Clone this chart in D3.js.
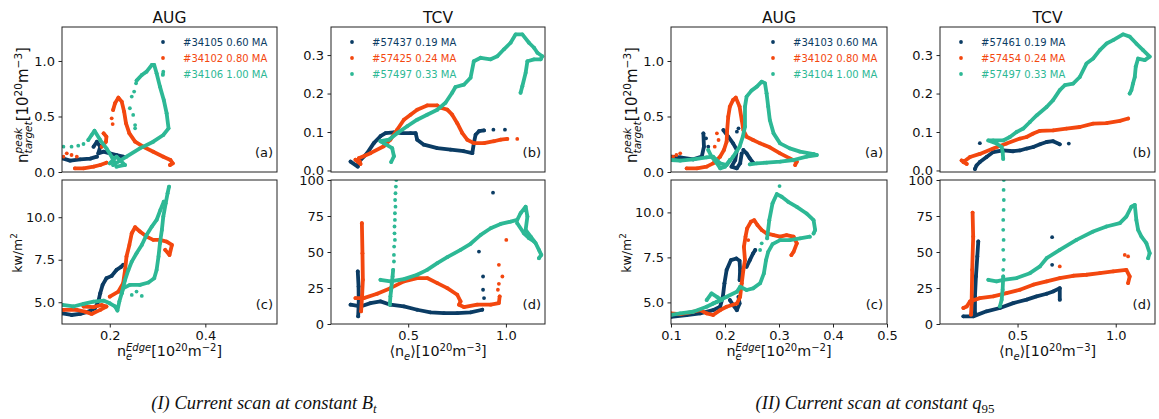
<!DOCTYPE html>
<html>
<head>
<meta charset="utf-8">
<script src="https://cdn.jsdelivr.net/npm/d3@7"></script>
<style>
  body { margin: 0; background: #fff; }
  svg { display: block; font-family: "DejaVu Sans", Verdana, sans-serif; }
</style>
</head>
<body>
<svg id="chart" width="1159" height="419"></svg>
<script>
// ---- legend labels ----
const legendAugI = ["#34105 0.60 MA", "#34102 0.80 MA", "#34106 1.00 MA"];
const legendTcvI = ["#57437 0.19 MA", "#57425 0.24 MA", "#57497 0.33 MA"];
const legendAugII = ["#34103 0.60 MA", "#34102 0.80 MA", "#34104 1.00 MA"];
const legendTcvII = ["#57461 0.19 MA", "#57454 0.24 MA", "#57497 0.33 MA"];
const colors = ["#0b3c64", "#f3470f", "#2db895"];

// ---- (I) AUG, peak target density vs edge density ----
const augI_n_navy = [
  [[0.101,0.123],[0.117,0.102],[0.138,0.114],[0.159,0.120],[0.173,0.138]],
  [[0.166,0.228],[0.173,0.273],[0.180,0.228],[0.176,0.168],[0.187,0.183],[0.200,0.168],[0.214,0.153],[0.228,0.138]]
];
const augI_n_navyDots = [];
const augI_n_orange = [
  [[0.127,0.033],[0.145,0.033],[0.166,0.048],[0.180,0.063],[0.193,0.084]],
  [[0.187,0.348],[0.193,0.318],[0.192,0.273],[0.183,0.228]],
  [[0.207,0.559],[0.211,0.619],[0.218,0.670],[0.225,0.634],[0.230,0.544],[0.234,0.438],[0.241,0.348],[0.253,0.273],[0.270,0.228],[0.291,0.183],[0.312,0.138],[0.327,0.108],[0.332,0.078],[0.326,0.063]]
];
const augI_n_orangeDots = [[0.204,0.483],[0.206,0.432],[0.110,0.168],[0.120,0.153],[0.131,0.138],[0.103,0.138]];
const augI_n_teal = [
  [[0.155,0.288],[0.162,0.333],[0.168,0.372],[0.180,0.288],[0.193,0.213],[0.204,0.138],[0.211,0.078]],
  [[0.200,0.078],[0.214,0.138],[0.221,0.108],[0.232,0.063],[0.214,0.048]],
  [[0.207,0.063],[0.235,0.138],[0.263,0.213],[0.291,0.273],[0.312,0.333],[0.323,0.393],[0.319,0.529],[0.313,0.649],[0.305,0.769],[0.298,0.889],[0.293,0.964],[0.288,0.964],[0.277,0.904],[0.267,0.874],[0.256,0.823]]
];
const augI_n_tealDots = [[0.103,0.228],[0.120,0.228],[0.134,0.237],[0.145,0.252],[0.255,0.799],[0.251,0.724],[0.246,0.679],[0.242,0.574],[0.249,0.514],[0.253,0.423],[0.253,0.393],[0.312,0.904],[0.311,0.874]];

// ---- (I) AUG, heat flux vs edge density ----
const augI_q_navy = [
  [[0.101,4.35],[0.120,4.25],[0.138,4.31],[0.155,4.45],[0.169,4.65],[0.176,5.04],[0.180,5.53],[0.185,6.02],[0.193,6.41],[0.204,6.55],[0.214,6.90],[0.223,7.06],[0.228,7.20]]
];
const augI_q_navyDots = [];
const augI_q_orange = [
  [[0.103,4.55],[0.131,4.55],[0.148,4.45],[0.162,4.31],[0.180,4.55],[0.193,4.75],[0.183,4.84],[0.166,4.71],[0.145,4.75]],
  [[0.200,5.33],[0.218,5.63],[0.228,6.12],[0.232,6.90],[0.235,7.69],[0.241,8.37],[0.246,9.06],[0.253,9.41],[0.263,9.16],[0.277,8.86],[0.291,8.67],[0.305,8.67],[0.319,8.57],[0.330,8.37],[0.325,7.78],[0.316,8.08]]
];
const augI_q_orangeDots = [];
const augI_q_teal = [
  [[0.101,4.84],[0.124,4.75],[0.145,4.90],[0.166,5.04],[0.187,5.10],[0.200,4.94],[0.211,4.75],[0.216,4.51],[0.220,5.04],[0.225,5.53],[0.228,5.82],[0.242,6.02],[0.263,6.02],[0.281,6.16],[0.293,6.41],[0.298,6.90],[0.302,7.69],[0.305,8.47],[0.309,9.25],[0.312,10.04],[0.317,10.82],[0.321,11.41],[0.324,11.80]],
  [[0.225,5.53],[0.232,6.31],[0.239,6.90],[0.246,7.39],[0.256,7.88],[0.267,8.37],[0.277,8.96],[0.288,9.45],[0.298,9.84],[0.306,10.43],[0.313,10.92]]
];
const augI_q_tealDots = [[0.246,5.43],[0.267,5.37],[0.256,5.63]];

// ---- (I) TCV, peak target density vs line averaged density ----
const tcvI_n_navy = [
  [[0.205,0.023],[0.242,0.010],[0.247,0.022],[0.290,0.045],[0.324,0.071],[0.358,0.089],[0.384,0.097],[0.427,0.099],[0.469,0.097],[0.512,0.097],[0.538,0.097],[0.546,0.080],[0.580,0.067],[0.649,0.058],[0.717,0.054],[0.785,0.050],[0.828,0.045],[0.836,0.071],[0.845,0.093],[0.862,0.102],[0.888,0.104]]
];
const tcvI_n_navyDots = [[0.936,0.106],[0.995,0.106]];
const tcvI_n_orange = [
  [[0.230,0.028],[0.256,0.017],[0.247,0.032],[0.307,0.045],[0.375,0.063],[0.409,0.080],[0.444,0.106],[0.478,0.132],[0.512,0.145],[0.546,0.158],[0.597,0.169],[0.649,0.169],[0.666,0.163],[0.700,0.158],[0.725,0.145],[0.751,0.123],[0.777,0.097],[0.802,0.080],[0.836,0.071],[0.888,0.071],[0.939,0.076],[0.973,0.080],[1.007,0.082]]
];
const tcvI_n_orangeDots = [[1.058,0.082]];
const tcvI_n_teal = [
  [[0.413,0.022],[0.427,0.037],[0.418,0.058],[0.375,0.071],[0.358,0.076],[0.401,0.080],[0.444,0.097],[0.495,0.115],[0.546,0.132],[0.597,0.145],[0.649,0.158],[0.691,0.176],[0.725,0.202],[0.742,0.217],[0.785,0.223],[0.819,0.241],[0.836,0.284],[0.871,0.293],[0.922,0.289],[0.956,0.297],[0.990,0.315],[1.024,0.332],[1.050,0.354],[1.084,0.354],[1.118,0.332],[1.144,0.319],[1.161,0.306],[1.186,0.297],[1.178,0.289],[1.144,0.289],[1.110,0.284],[1.101,0.254],[1.084,0.219],[1.075,0.202]]
];
const tcvI_n_tealDots = [];

// ---- (I) TCV, heat flux ----
const tcvI_q_navy = [
  [[0.242,36.5],[0.246,26.1],[0.247,14.5],[0.244,5.3]],
  [[0.205,13.4],[0.256,12.2],[0.307,14.5],[0.358,15.7],[0.409,13.4],[0.478,12.2],[0.546,9.9],[0.614,8.1],[0.683,7.6],[0.751,7.6],[0.819,8.1],[0.879,9.9]]
];
const tcvI_q_navyDots = [[0.888,18.0],[0.883,23.8],[0.883,33.0],[0.862,50.3],[0.934,91.2]];
const tcvI_q_orange = [
  [[0.263,70.0],[0.266,49.2],[0.268,30.7],[0.264,19.2],[0.259,8.8]],
  [[0.230,18.0],[0.273,18.0],[0.341,21.0],[0.409,24.9],[0.478,29.6],[0.546,31.9],[0.597,31.9],[0.649,28.4],[0.700,24.9],[0.751,20.3],[0.768,15.7],[0.760,13.4],[0.785,11.8],[0.853,13.4],[0.922,13.4],[0.964,14.5],[0.968,19.2]]
];
const tcvI_q_orangeDots = [[0.959,23.8],[0.964,27.9],[0.982,33.0],[0.964,41.1],[1.002,58.4]];
const tcvI_q_teal = [
  [[0.423,37.6],[0.420,33.0],[0.416,28.4],[0.413,23.8],[0.409,19.2],[0.406,13.4]],
  [[0.358,30.7],[0.409,29.6],[0.478,31.2],[0.546,34.2],[0.597,37.6],[0.649,42.3],[0.700,46.4],[0.768,51.5],[0.819,55.7],[0.871,61.9],[0.922,66.5],[0.973,69.5],[1.024,71.1],[1.058,72.3],[1.075,76.9],[1.101,81.5],[1.110,74.6],[1.101,65.4],[1.127,60.7],[1.152,56.1],[1.169,51.5],[1.181,48.0],[1.169,45.7]],
  [[1.058,70.0],[1.092,63.0],[1.118,59.6],[1.144,57.3]]
];
const tcvI_q_tealDots = [[0.439,100],[0.437,95.4],[0.435,90.8],[0.433,86.1],[0.435,81.5],[0.432,76.9],[0.432,72.3],[0.430,67.7],[0.430,63.0],[0.432,58.4],[0.428,53.8],[0.427,48.0],[0.427,43.4]];

// ---- (II) AUG, peak target density ----
const augII_n_navy = [
  [[0.100,0.138],[0.117,0.132],[0.141,0.114],[0.157,0.138],[0.161,0.228],[0.160,0.348]],
  [[0.197,0.378],[0.206,0.318],[0.215,0.258],[0.222,0.198],[0.219,0.108],[0.212,0.048],[0.222,0.033],[0.228,0.078],[0.231,0.168]],
  [[0.234,0.198],[0.240,0.168],[0.246,0.123],[0.252,0.084]]
];
const augII_n_navyDots = [[0.225,0.393],[0.222,0.363],[0.165,0.303],[0.169,0.228]];
const augII_n_orange = [
  [[0.129,0.033],[0.148,0.033],[0.166,0.048],[0.178,0.078],[0.191,0.138],[0.198,0.198],[0.203,0.273],[0.204,0.378],[0.206,0.498],[0.209,0.589],[0.215,0.649],[0.220,0.670],[0.227,0.589],[0.231,0.468],[0.234,0.378],[0.240,0.318],[0.252,0.288],[0.265,0.258],[0.283,0.222],[0.302,0.168],[0.320,0.123],[0.333,0.093],[0.330,0.063]]
];
const augII_n_orangeDots = [[0.185,0.348],[0.188,0.288],[0.181,0.228],[0.110,0.153],[0.117,0.168],[0.104,0.138]];
const augII_n_teal = [
  [[0.100,0.108],[0.117,0.102],[0.141,0.114],[0.166,0.132],[0.178,0.138],[0.191,0.078],[0.203,0.063],[0.215,0.138],[0.227,0.228],[0.233,0.318],[0.237,0.408],[0.237,0.589],[0.240,0.679],[0.249,0.733],[0.259,0.769],[0.268,0.814],[0.274,0.799],[0.277,0.709],[0.280,0.589],[0.283,0.468],[0.290,0.348],[0.302,0.258],[0.320,0.213],[0.339,0.183],[0.364,0.162],[0.370,0.153],[0.351,0.138],[0.327,0.108],[0.302,0.093],[0.277,0.084],[0.259,0.078],[0.246,0.069]],
  [[0.169,0.198],[0.175,0.138],[0.185,0.078],[0.191,0.033],[0.200,0.048],[0.209,0.108]]
];
const augII_n_tealDots = [];

// ---- (II) AUG, heat flux ----
const augII_q_navy = [
  [[0.100,4.20],[0.129,4.30],[0.154,4.39],[0.178,4.57],[0.191,4.76],[0.196,5.31],[0.199,6.06],[0.203,6.80],[0.211,7.35],[0.221,7.44],[0.227,7.31],[0.228,6.80],[0.227,6.24]],
  [[0.209,5.13],[0.215,4.85],[0.222,4.57],[0.227,4.94],[0.225,5.31]],
  [[0.240,6.98],[0.246,7.35],[0.252,7.72],[0.256,7.91]]
];
const augII_q_navyDots = [];
const augII_q_orange = [
  [[0.100,4.39],[0.117,4.35],[0.141,4.48],[0.154,4.57],[0.166,4.39],[0.178,4.30],[0.191,4.57],[0.203,4.76],[0.222,4.94],[0.228,5.31],[0.231,6.06],[0.234,6.80],[0.237,7.35],[0.235,8.09],[0.238,8.65],[0.241,9.11],[0.248,9.48],[0.254,9.57],[0.260,9.30],[0.268,9.02],[0.277,8.83],[0.290,8.74],[0.302,8.65],[0.314,8.74],[0.327,8.65],[0.333,8.28],[0.327,7.81],[0.323,7.63]]
];
const augII_q_orangeDots = [[0.243,8.46]];
const augII_q_teal = [
  [[0.100,4.30],[0.117,4.39],[0.141,4.48],[0.166,4.76],[0.185,5.04],[0.203,5.31],[0.222,5.59],[0.228,5.87],[0.240,5.69],[0.252,5.78],[0.265,6.06],[0.272,6.61],[0.276,7.35],[0.280,7.81],[0.288,8.24],[0.302,8.46],[0.320,8.46],[0.339,8.56],[0.357,8.65]],
  [[0.166,5.13],[0.175,5.50],[0.185,5.31],[0.194,5.13],[0.178,4.94]],
  [[0.278,8.56],[0.282,9.57],[0.288,10.50],[0.296,11.02],[0.305,10.87],[0.317,10.59],[0.333,10.31],[0.351,9.94],[0.364,9.57],[0.367,9.02],[0.364,8.83]]
];
const augII_q_tealDots = [[0.301,11.46],[0.265,7.91],[0.268,8.28]];

// ---- (II) TCV, peak target density ----
const tcvII_n_navy = [
  [[0.283,0.004],[0.291,0.013],[0.308,0.022],[0.342,0.035],[0.376,0.048],[0.427,0.052],[0.478,0.050],[0.512,0.052],[0.546,0.057],[0.580,0.061],[0.614,0.068],[0.648,0.074],[0.681,0.076],[0.715,0.068]]
];
const tcvII_n_navyDots = [[0.308,0.071],[0.761,0.070]];
const tcvII_n_orange = [
  [[0.215,0.026],[0.241,0.017],[0.224,0.022],[0.258,0.035],[0.308,0.043],[0.376,0.057],[0.444,0.070],[0.512,0.083],[0.546,0.087],[0.580,0.096],[0.614,0.103],[0.681,0.104],[0.749,0.109],[0.817,0.113],[0.885,0.122],[0.953,0.123],[1.021,0.129],[1.063,0.135]]
];
const tcvII_n_orangeDots = [];
const tcvII_n_teal = [
  [[0.427,0.030],[0.424,0.048],[0.419,0.061],[0.393,0.070],[0.351,0.078],[0.376,0.078],[0.427,0.078],[0.461,0.087],[0.495,0.100],[0.529,0.109],[0.563,0.126],[0.597,0.143],[0.648,0.165],[0.681,0.183],[0.715,0.209],[0.741,0.222],[0.783,0.226],[0.817,0.243],[0.851,0.278],[0.885,0.291],[0.919,0.313],[0.953,0.330],[0.987,0.339],[1.037,0.354],[1.071,0.348],[1.105,0.330],[1.139,0.313],[1.173,0.296],[1.148,0.287],[1.114,0.291],[1.102,0.270],[1.097,0.243],[1.088,0.226],[1.080,0.209],[1.071,0.200]]
];
const tcvII_n_tealDots = [];

// ---- (II) TCV, heat flux ----
const tcvII_q_navy = [
  [[0.300,57.3],[0.295,46.9],[0.288,33.0],[0.283,19.2],[0.283,7.6]],
  [[0.224,5.3],[0.274,5.3],[0.342,8.8],[0.410,11.1],[0.478,14.5],[0.546,16.9],[0.597,19.2],[0.648,21.0],[0.681,22.6],[0.715,24.9],[0.715,16.9]]
];
const tcvII_q_navyDots = [[0.676,60.3],[0.676,41.1]];
const tcvII_q_orange = [
  [[0.271,77.4],[0.274,60.7],[0.269,37.6],[0.266,14.5],[0.263,6.5]],
  [[0.224,11.1],[0.241,12.2],[0.258,15.7],[0.308,18.0],[0.376,19.2],[0.444,21.5],[0.512,23.8],[0.580,27.3],[0.648,29.6],[0.715,31.9],[0.783,33.5],[0.851,34.2],[0.919,35.3],[0.987,36.5],[1.054,37.6],[1.071,33.0],[1.063,28.4]]
];
const tcvII_q_orangeDots = [[1.046,48.0],[1.063,46.9],[0.715,40.0]];
const tcvII_q_teal = [
  [[0.427,33.0],[0.424,23.8],[0.419,16.9],[0.410,12.2]],
  [[0.351,30.7],[0.393,29.6],[0.427,30.7],[0.495,31.9],[0.563,35.3],[0.614,40.0],[0.648,45.7],[0.715,51.5],[0.800,58.4],[0.885,64.2],[0.953,67.7],[1.021,70.0],[1.054,74.6],[1.080,81.5],[1.097,82.7],[1.105,72.3],[1.114,65.4],[1.131,60.7],[1.156,56.1],[1.173,49.2],[1.165,45.7]]
];
const tcvII_q_tealDots = [[0.430,100],[0.429,93.1],[0.430,86.1],[0.429,79.2],[0.427,72.3],[0.427,65.4],[0.429,58.4],[0.427,51.5],[0.430,44.6],[0.427,37.6]];

// ---- axis ticks ----
const ticksN = [0, 0.5, 1.0];
const ticksQaug = [5.0, 7.5, 10.0];
const ticksNtcv = [0.0, 0.1, 0.2, 0.3];
const ticksQtcv = [0, 25, 50, 75, 100];
const ticksXaugI = [0.2, 0.4];
const ticksXaugII = [0.1, 0.2, 0.3, 0.4, 0.5];
const ticksXtcv = [0.5, 1.0];

const svg = d3.select('#chart');
const frameColor = '#222';
const sans = '"DejaVu Sans", Verdana, sans-serif';

// lays out text pieces with sup/sub scripts, returns total width
function rich(g, pieces, size) {
  let x = 0, stackX = null, stackW = 0;
  pieces.forEach(p => {
    const small = p.sup || p.sub;
    const shift = p.shift !== undefined ? p.shift : (p.sup ? -0.42 : p.sub ? 0.26 : 0);
    const t = g.append('text')
      .attr('x', x)
      .attr('y', size * shift)
      .attr('font-size', small ? size * 0.7 : size)
      .text(p.t);
    if (p.italic) t.attr('font-style', 'italic');
    const w = t.node().getComputedTextLength();
    if (p.stack) { stackX = x; stackW = w; }
    else if (stackX !== null) { x = stackX + Math.max(stackW, w); stackX = null; }
    else x += w;
  });
  return x;
}

function label(parent, pieces, size, cx, cy, rotate, family) {
  const outer = parent.append('g')
    .attr('transform', `translate(${cx},${cy})` + (rotate ? ' rotate(-90)' : ''));
  const inner = outer.append('g').attr('fill', '#111').attr('font-family', family || sans);
  const w = rich(inner, pieces, size);
  inner.attr('transform', `translate(${-w / 2},0)`);
  return outer;
}

let clipId = 0;
function panel(cfg) {
  const { x0, x1, y0, y1 } = cfg.box;
  const x = d3.scaleLinear().domain(cfg.xDomain).range([x0, x1]);
  const y = d3.scaleLinear().domain(cfg.yDomain).range([y1, y0]);
  const g = svg.append('g');
  const id = 'clip' + (clipId++);
  g.append('clipPath').attr('id', id)
    .append('rect').attr('x', x0).attr('y', y0).attr('width', x1 - x0).attr('height', y1 - y0);

  const plot = g.append('g').attr('clip-path', `url(#${id})`);
  const line = d3.line().x(d => x(d[0])).y(d => y(d[1]));
  cfg.series.forEach((s, i) => {
    const sg = plot.append('g');
    sg.selectAll('path').data(s.trails).join('path')
      .attr('d', line)
      .attr('fill', 'none')
      .attr('stroke', colors[i])
      .attr('stroke-width', 3.8)
      .attr('stroke-linejoin', 'round')
      .attr('stroke-linecap', 'round');
    const pts = s.trails.flat().concat(s.dots);
    sg.selectAll('circle').data(pts).join('circle')
      .attr('cx', d => x(d[0]))
      .attr('cy', d => y(d[1]))
      .attr('r', 1.9)
      .attr('fill', colors[i]);
  });

  // axes
  const ya = g.append('g').attr('transform', `translate(${x0},0)`)
    .call(d3.axisLeft(y).tickValues(cfg.yTicks).tickFormat(d3.format(cfg.yFmt)).tickSize(3.5).tickPadding(3.5));
  const axes = [ya];
  if (cfg.xTicks) {
    const xa = g.append('g').attr('transform', `translate(0,${y1})`)
      .call(d3.axisBottom(x).tickValues(cfg.xTicks).tickFormat(d3.format('.1f')).tickSize(3.5).tickPadding(3.5));
    axes.push(xa);
  }
  axes.forEach(a => {
    a.select('.domain').remove();
    a.selectAll('line').attr('stroke', frameColor);
    a.selectAll('text').attr('font-size', 13).attr('fill', '#111').attr('font-family', sans);
  });

  g.append('rect').attr('x', x0).attr('y', y0).attr('width', x1 - x0).attr('height', y1 - y0)
    .attr('fill', 'none').attr('stroke', frameColor).attr('stroke-width', 1);

  g.append('text').attr('x', x1 - 4).attr('y', y1 - 15)
    .attr('text-anchor', 'end').attr('font-size', 13).attr('fill', '#111')
    .text(cfg.letter);

  if (cfg.legend) {
    const lg = g.append('g');
    cfg.legend.labels.forEach((t, i) => {
      const ly = 42 + i * 16;
      lg.append('circle').attr('cx', cfg.legend.mx).attr('cy', ly).attr('r', 1.9).attr('fill', colors[i]);
      lg.append('text').attr('x', cfg.legend.mx + 20).attr('y', ly)
        .attr('dy', '0.36em').attr('font-size', 10).attr('fill', colors[i]).text(t);
    });
  }
  if (cfg.title) {
    g.append('text').attr('x', (x0 + x1) / 2).attr('y', 22.5)
      .attr('text-anchor', 'middle').attr('font-size', 15.5).attr('fill', '#111').text(cfg.title);
  }
}

const yLabN = [{t:'n'},{t:'peak',sup:true,italic:true,stack:true},{t:'target',sub:true,italic:true},
  {t:'[10'},{t:'20',sup:true},{t:'m'},{t:'\u22123',sup:true},{t:']'}];
const yLabQ = [{t:'kw/m'},{t:'2',sup:true}];
const xLabAug = [{t:'n'},{t:'Edge',sup:true,italic:true,stack:true,shift:-0.32},{t:'e',sub:true,italic:true},
  {t:'[10'},{t:'20',sup:true,shift:-0.36},{t:'m'},{t:'\u22122',sup:true,shift:-0.36},{t:']'}];
const xLabTcv = [{t:'\u27e8n'},{t:'e',sub:true,italic:true},{t:'\u27e9[10'},{t:'20',sup:true,shift:-0.36},{t:'m'},{t:'\u22123',sup:true,shift:-0.36},{t:']'}];

function group(gx, aug, tcv, legA, legT, xTicksAug, xDomAug, yDomQ) {
  const top = { y0: 27, y1: 172 }, bot = { y0: 180, y1: 324 };
  const augBox = { x0: gx.a0, x1: gx.a1 }, tcvBox = { x0: gx.t0, x1: gx.t1 };
  panel({ box: {...augBox, ...top}, xDomain: xDomAug, yDomain: [0, 1.306], yTicks: ticksN, yFmt: '.1f',
    series: aug.n, letter: '(a)', title: 'AUG', legend: { labels: legA, mx: gx.a1 - 114 } });
  panel({ box: {...augBox, ...bot}, xDomain: xDomAug, yDomain: yDomQ, yTicks: ticksQaug, yFmt: '.1f',
    xTicks: xTicksAug, series: aug.q, letter: '(c)' });
  panel({ box: {...tcvBox, ...top}, xDomain: [0.105, 1.2], yDomain: [-0.004, 0.373], yTicks: ticksNtcv, yFmt: '.1f',
    series: tcv.n, letter: '(b)', title: 'TCV', legend: { labels: legT, mx: gx.t0 + 21 } });
  panel({ box: {...tcvBox, ...bot}, xDomain: [0.105, 1.2], yDomain: [0, 100], yTicks: ticksQtcv, yFmt: 'd',
    xTicks: ticksXtcv, series: tcv.q, letter: '(d)' });

  label(svg, yLabN, 15, gx.a0 - 34, 105, true);
  label(svg, yLabQ, 12.5, gx.a0 - 40, 253, true);
  label(svg, xLabAug, 14.3, (gx.a0 + gx.a1) / 2, 356, false);
  label(svg, xLabTcv, 14.3, (gx.t0 + gx.t1) / 2, 356, false);
}

const S = (trails, dots) => ({ trails, dots });

group({ a0: 62, a1: 277, t0: 331, t1: 545 },
  { n: [S(augI_n_navy, augI_n_navyDots), S(augI_n_orange, augI_n_orangeDots), S(augI_n_teal, augI_n_tealDots)],
    q: [S(augI_q_navy, augI_q_navyDots), S(augI_q_orange, augI_q_orangeDots), S(augI_q_teal, augI_q_tealDots)] },
  { n: [S(tcvI_n_navy, tcvI_n_navyDots), S(tcvI_n_orange, tcvI_n_orangeDots), S(tcvI_n_teal, tcvI_n_tealDots)],
    q: [S(tcvI_q_navy, tcvI_q_navyDots), S(tcvI_q_orange, tcvI_q_orangeDots), S(tcvI_q_teal, tcvI_q_tealDots)] },
  legendAugI, legendTcvI, ticksXaugI, [0.1, 0.55], [3.72, 12.19]);

group({ a0: 671, a1: 887, t0: 940, t1: 1155 },
  { n: [S(augII_n_navy, augII_n_navyDots), S(augII_n_orange, augII_n_orangeDots), S(augII_n_teal, augII_n_tealDots)],
    q: [S(augII_q_navy, augII_q_navyDots), S(augII_q_orange, augII_q_orangeDots), S(augII_q_teal, augII_q_tealDots)] },
  { n: [S(tcvII_n_navy, tcvII_n_navyDots), S(tcvII_n_orange, tcvII_n_orangeDots), S(tcvII_n_teal, tcvII_n_tealDots)],
    q: [S(tcvII_q_navy, tcvII_q_navyDots), S(tcvII_q_orange, tcvII_q_orangeDots), S(tcvII_q_teal, tcvII_q_tealDots)] },
  legendAugII, legendTcvII, ticksXaugII, [0.1, 0.5], [3.8, 11.8]);

// captions
const serif = '"Liberation Serif", "Times New Roman", serif';
label(svg, [{t:'(I) Current scan at constant B', italic:true}, {t:'t', sub:true, italic:true, shift:0.2}], 18.5, 264, 409, false, serif);
label(svg, [{t:'(II) Current scan at constant q', italic:true}, {t:'95', sub:true, shift:0.2}], 18.5, 875, 409, false, serif);
</script>
</body>
</html>
